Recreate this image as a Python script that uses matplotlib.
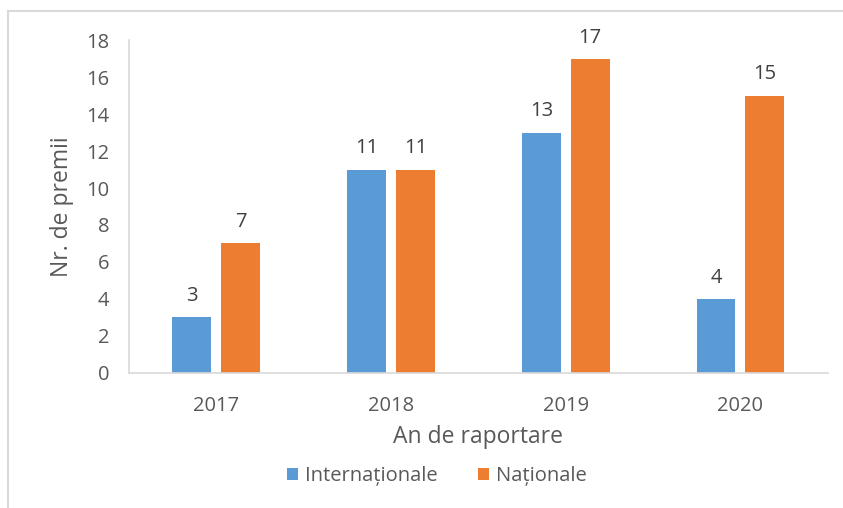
import numpy as np
import matplotlib.pyplot as plt
from matplotlib.patches import Rectangle

# date
ani = ["2017", "2018", "2019", "2020"]
internationale = [3, 11, 13, 4]
nationale = [7, 11, 17, 15]

plt.rcParams['font.family'] = ['Open Sans', 'DejaVu Sans']
gri = "#595959"

fig = plt.figure(figsize=(8.43, 5.08), dpi=100)
ax = fig.add_axes([0.153, 0.266, 0.829, 0.655])

# chenar exterior (doar stanga si sus vizibile)
fig.patches.append(Rectangle((8 / 843, -0.1), 1.2, 0.1 + (508 - 11) / 508, transform=fig.transFigure,
                             fill=False, edgecolor="#d9d9d9", linewidth=1.5))

x = np.arange(len(ani))
w = 0.223
b1 = ax.bar(x - 0.14, internationale, w, color="#5b9bd5", label="Internaționale")
b2 = ax.bar(x + 0.14, nationale, w, color="#ed7d31", label="Naționale")

for bars in (b1, b2):
    ax.bar_label(bars, padding=8, fontsize=14.5, color="#404040")

ax.set_xlim(-0.5, 3.5)
ax.set_ylim(0, 18)
ax.set_yticks(range(0, 19, 2))
ax.set_xticks(x)
ax.set_xticklabels(ani)
ax.tick_params(axis="both", length=0, labelsize=14.5, colors=gri)
ax.tick_params(axis="y", pad=14)
ax.tick_params(axis="x", pad=17)

for s in ("top", "right"):
    ax.spines[s].set_visible(False)
ax.spines["left"].set_color("#d9d9d9")
ax.spines["bottom"].set_color("#d9d9d9")
ax.spines["left"].set_linewidth(1.2)
ax.spines["bottom"].set_linewidth(1.2)

ax.set_xlabel("An de raportare", fontsize=16.5, color=gri, labelpad=6)
ax.set_ylabel("Nr. de premii", fontsize=16.5, color=gri, labelpad=9)

fig.legend(loc="center", bbox_to_anchor=(437 / 843, 1 - 476 / 508), ncol=2, frameon=False,
           fontsize=14.5, labelcolor=gri, handlelength=0.55, handleheight=0.55,
           columnspacing=2.0, handletextpad=0.35)

fig.savefig("out.png", dpi=100)
